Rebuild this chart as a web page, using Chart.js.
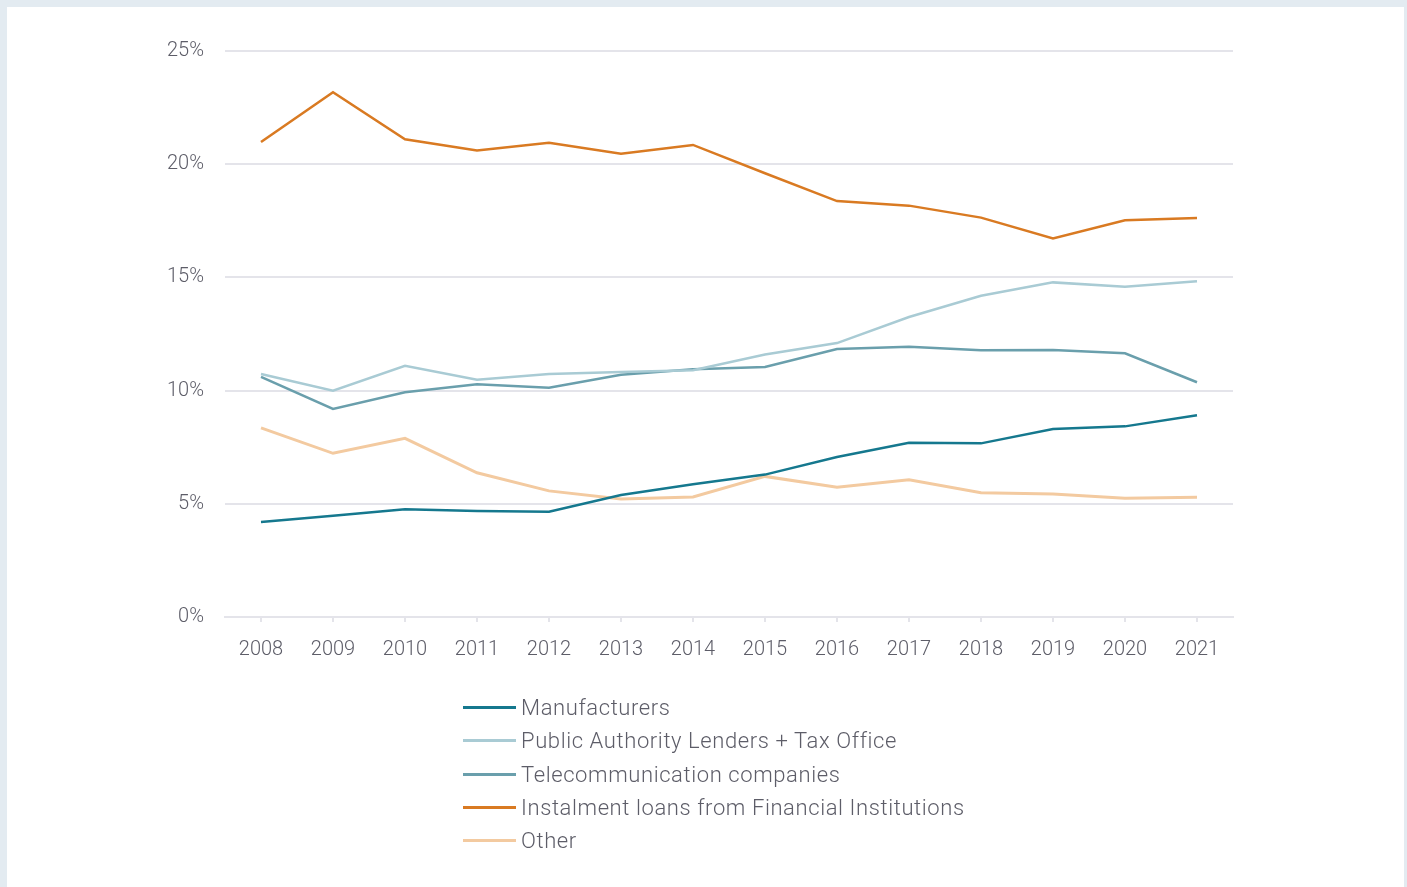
<!DOCTYPE html>
<html>
<head>
<meta charset="utf-8">
<script src="https://cdn.jsdelivr.net/npm/chart.js@4"></script>
<style>
  html, body { margin: 0; padding: 0; }
  body { width: 1407px; height: 887px; background: #e3ebf1; position: relative; overflow: hidden; font-family: 'Roboto', sans-serif; }
  .card { position: absolute; left: 7px; top: 7px; width: 1397px; height: 880px; background: #fff; }
  #wrap { position: absolute; left: 0; top: 0; width: 1407px; height: 887px; }
  #legend { position: absolute; left: 463px; top: 691px; font-weight: 300; font-size: 22px; letter-spacing: 0.6px; color: #5d5d68; }
  #legend div { height: 33.25px; display: flex; align-items: center; }
  #legend span.ln { display: inline-block; width: 53px; height: 3px; margin-right: 5px; }
</style>
</head>
<body>
<div class="card"></div>
<div id="wrap"><canvas id="myChart"></canvas></div>
<div id="legend"></div>
<script>
const years = ['2008','2009','2010','2011','2012','2013','2014','2015','2016','2017','2018','2019','2020','2021'];
const yTicks = [0, 5, 10, 15, 20, 25];

const manufacturers = [4.20, 4.47, 4.76, 4.68, 4.65, 5.39, 5.86, 6.29, 7.07, 7.70, 7.67, 8.30, 8.42, 8.91];
const publicAuthority = [10.73, 10.00, 11.10, 10.48, 10.73, 10.82, 10.90, 11.59, 12.10, 13.25, 14.19, 14.78, 14.59, 14.83];
const telecom = [10.61, 9.19, 9.93, 10.28, 10.13, 10.70, 10.94, 11.04, 11.84, 11.94, 11.78, 11.79, 11.65, 10.37];
const instalment = [20.98, 23.18, 21.10, 20.61, 20.95, 20.46, 20.85, 19.60, 18.37, 18.17, 17.64, 16.72, 17.52, 17.62];
const other = [8.35, 7.23, 7.89, 6.37, 5.57, 5.21, 5.30, 6.21, 5.73, 6.06, 5.49, 5.43, 5.24, 5.29];

const seriesNames = ['Manufacturers', 'Public Authority Lenders + Tax Office', 'Telecommunication companies', 'Instalment loans from Financial Institutions', 'Other'];
const seriesColors = ['#15788e', '#a9cbd4', '#6a9fac', '#d97a22', '#f3caa0'];
const seriesData = [manufacturers, publicAuthority, telecom, instalment, other];

document.addEventListener('DOMContentLoaded', () => {
  Chart.defaults.font.family = 'Roboto';
  Chart.defaults.font.weight = 300;
  Chart.defaults.color = '#5d5d68';

  const ctx = document.getElementById('myChart');
  const chart = new Chart(ctx, {
    type: 'line',
    data: {
      labels: years,
      datasets: seriesData.map((d, i) => ({
        label: seriesNames[i],
        data: d,
        borderColor: seriesColors[i],
        backgroundColor: seriesColors[i],
        borderWidth: i === 4 ? 3 : 2.5,
        pointRadius: 0,
        tension: 0,
        order: i === 3 ? 0 : i + 1
      }))
    },
    options: {
      responsive: true,
      maintainAspectRatio: false,
      animation: false,
      layout: { padding: { left: 145, right: 174, top: 51, bottom: 230 } },
      plugins: { legend: { display: false }, tooltip: { enabled: false } },
      scales: {
        x: {
          offset: true,
          grid: { offset: false, drawOnChartArea: false, drawTicks: true, tickLength: 5, color: '#e4e4ea', lineWidth: 2 },
          border: { color: '#e4e4ea', width: 2 },
          ticks: { font: { size: 20, weight: 300 }, padding: 16, maxRotation: 0 },
          afterFit: s => { s.height = 40; }
        },
        y: {
          min: 0,
          max: 25,
          afterBuildTicks: s => { s.ticks = yTicks.map(v => ({ value: v })); },
          grid: { color: '#e4e4ea', lineWidth: 2, drawTicks: false },
          border: { display: false },
          ticks: { font: { size: 20, weight: 300 }, padding: 21, callback: v => v + '%' },
          afterFit: s => { s.width = 80; }
        }
      }
    }
  });

  const legend = document.getElementById('legend');
  chart.data.datasets.forEach(ds => {
    const row = document.createElement('div');
    const ln = document.createElement('span');
    ln.className = 'ln';
    ln.style.background = ds.borderColor;
    row.appendChild(ln);
    row.appendChild(document.createTextNode(ds.label));
    legend.appendChild(row);
  });
});
</script>
</body>
</html>
